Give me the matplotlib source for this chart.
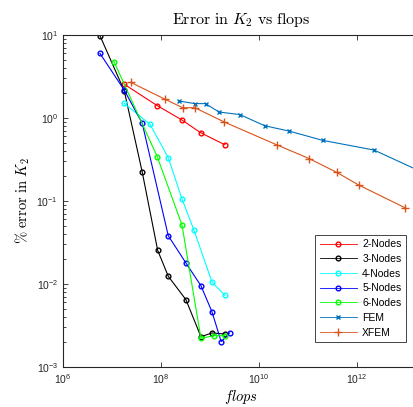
import numpy as np
import matplotlib
matplotlib.use('Agg')
import matplotlib.pyplot as plt
from matplotlib.ticker import LogLocator, NullLocator

plt.rcParams['font.family'] = ['Liberation Sans', 'DejaVu Sans']
plt.rcParams['mathtext.fontset'] = 'cm'

# data (flops, % error in K2)
x2 = [1.78e7, 8.4e7, 2.69e8, 6.46e8, 2.02e9]
y2 = [2.55, 1.41, 0.946, 0.665, 0.476]

x3 = [5.69e6, 1.78e7, 4.15e7, 8.57e7, 1.41e8, 3.24e8, 6.55e8, 1.10e9, 2.02e9]
y3 = [9.8, 2.13, 0.223, 0.0255, 0.0124, 0.00647, 0.00232, 0.00257, 0.0025]

x4 = [1.78e7, 5.97e7, 1.41e8, 2.69e8, 4.71e8, 1.10e9, 2.02e9]
y4 = [1.50, 0.84, 0.333, 0.106, 0.0448, 0.0106, 0.0073]

x5 = [5.69e6, 1.78e7, 4.15e7, 1.41e8, 3.24e8, 6.55e8, 1.10e9, 1.70e9, 2.52e9]
y5 = [6.0, 2.17, 0.863, 0.0382, 0.0179, 0.00955, 0.00464, 0.00202, 0.00257]

x6 = [1.10e7, 8.4e7, 2.69e8, 6.55e8, 1.22e9, 2.02e9]
y6 = [4.77, 0.342, 0.0514, 0.00222, 0.00238, 0.00238]

x_fem = [2.36e8, 4.94e8, 8.17e8, 1.53e9, 4.09e9, 1.31e10, 4.09e10, 2.0e11, 2.25e12, 3.2e13]
y_fem = [1.60, 1.49, 1.49, 1.18, 1.10, 0.807, 0.697, 0.538, 0.411, 0.2]

x_xfem = [2.41e7, 1.22e8, 2.77e8, 4.94e8, 1.96e9, 2.30e10, 1.08e11, 3.85e11, 1.11e12, 9.86e12]
y_xfem = [2.69, 1.68, 1.33, 1.33, 0.895, 0.476, 0.323, 0.222, 0.155, 0.0824]

fig = plt.figure(figsize=(4.14, 4.07), dpi=100)
ax = fig.add_axes([63/414, 1-367/407, 356/414, 332/407])

mk = dict(markersize=3.4, markerfacecolor='none', markeredgewidth=1.0, linewidth=0.8)
ax.loglog(x2, y2, 'o-', color='#ff0000', label='2-Nodes', **mk)
ax.loglog(x3, y3, 'o-', color='#000000', label='3-Nodes', **mk)
ax.loglog(x4, y4, 'o-', color='#00ffff', label='4-Nodes', **mk)
ax.loglog(x5, y5, 'o-', color='#0000ff', label='5-Nodes', **mk)
ax.loglog(x6, y6, 'o-', color='#00ff00', label='6-Nodes', **mk)
ax.loglog(x_fem, y_fem, 'x-', color='#0072bd', label='FEM', **mk)
ax.loglog(x_xfem, y_xfem, '+-', color='#d95319', label='XFEM', markersize=5.5, linewidth=0.8)

ax.set_xlim(1e6, 10**13.27)
ax.set_ylim(1e-3, 1e1)
ax.set_xticks([1e6, 1e8, 1e10, 1e12])
ax.xaxis.set_minor_locator(NullLocator())
ax.yaxis.set_major_locator(LogLocator(base=10, numticks=10))
ax.yaxis.set_minor_locator(LogLocator(base=10, subs=np.arange(2, 10), numticks=10))

ax.tick_params(which='both', direction='in', top=True, right=True,
               labelsize=7.5, colors='#262626', width=0.6)
ax.tick_params(which='major', length=3.5)
ax.tick_params(which='minor', length=2)
for s in ax.spines.values():
    s.set_color('#262626')
    s.set_linewidth(0.8)

ax.set_title(r'$\mathrm{Error\ in\ }K_2\mathrm{\ vs\ flops}$', fontsize=11.5, pad=8)
ax.set_xlabel(r'$flops$', fontsize=10.5, labelpad=2)
ax.set_ylabel(r'$\%\ \mathrm{error\ in\ }K_2$', fontsize=10.5, labelpad=3)

leg = ax.legend(loc='upper right', bbox_to_anchor=(411/414, 1-230/407),
                bbox_transform=fig.transFigure, fontsize=7.5, fancybox=False,
                edgecolor='#262626', framealpha=1, handlelength=3.6,
                labelspacing=0.45, borderpad=0.4, handletextpad=0.5)
leg.get_frame().set_linewidth(0.6)
for line in leg.get_lines():
    line.set_linewidth(0.6)

fig.savefig('out.png', dpi=100)
